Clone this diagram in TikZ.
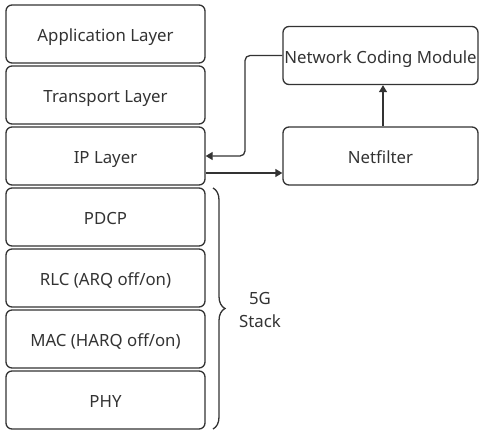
\documentclass[tikz,border=0pt]{standalone}
\usepackage{fontspec}
\setmainfont{Noto Sans}
\usetikzlibrary{arrows.meta,decorations.pathreplacing}
\definecolor{ln}{HTML}{333333}
\begin{document}
\begin{tikzpicture}[x=1pt,y=-1pt,
  layer/.style={draw=ln,line width=1.3pt,rounded corners=6pt,minimum width=199pt,minimum height=58pt,inner sep=0pt,text height=15pt,text depth=0pt,font=\fontsize{16.8}{20}\selectfont,text=ln},
  side/.style={layer,minimum width=195pt},
  conn/.style={draw=ln,line width=1.3pt,-{Triangle[length=7pt,width=8pt]}}]
\useasboundingbox (0,0) rectangle (479,434);
\node[layer] (app) at (105.5,34) {Application Layer};
\node[layer] (tr) at (105.5,95) {Transport Layer};
\node[layer] (ip) at (105.5,156) {IP Layer};
\node[layer] (pdcp) at (105.5,217) {PDCP};
\node[layer] (rlc) at (105.5,278) {RLC (ARQ off/on)};
\node[layer] (mac) at (105.5,339) {MAC (HARQ off/on)};
\node[layer] (phy) at (105.5,400) {PHY};
\node[side] (ncm) at (380.5,55.5) {Network Coding Module};
\node[side] (nf) at (380.5,156) {Netfilter};
\coordinate (a) at (245,0);
\draw[conn,rounded corners=5pt] (ncm.west) -| (a |- ip.east) -- (ip.east);
\draw[conn] ([yshift=-17pt]ip.east) -- ([yshift=-17pt]nf.west);
\draw[conn] ([xshift=2.5pt]nf.north) -- ([xshift=2.5pt]ncm.south);
\coordinate (b1) at (213,188);
\coordinate (b2) at (213,429);
\draw[ln,line width=1.3pt,decorate,decoration={brace,amplitude=12pt}] (b1) -- (b2);
\node[text=ln,font=\fontsize{16.8}{23}\selectfont,align=center] (lbl) at (260,310) {5G\\Stack};
\end{tikzpicture}
\end{document}
